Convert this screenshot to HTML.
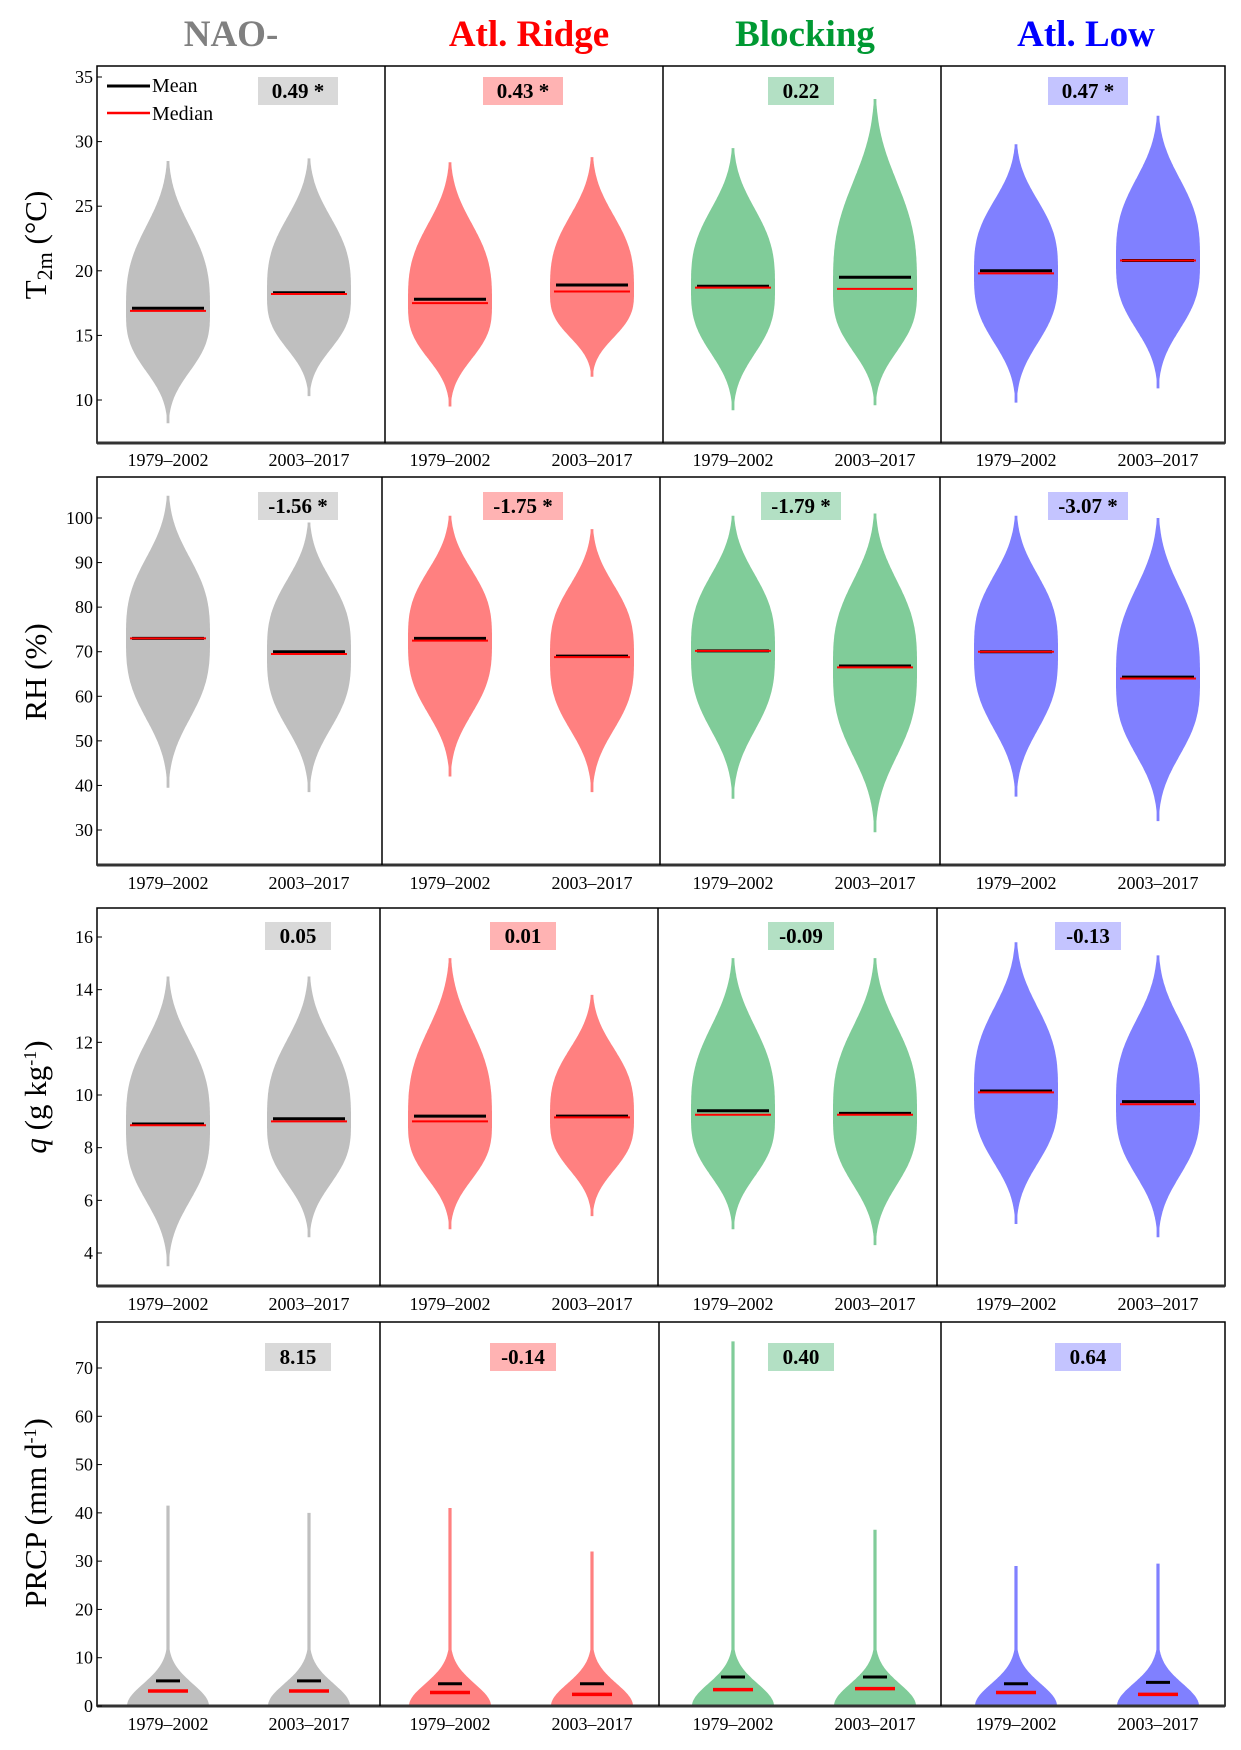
<!DOCTYPE html>
<html><head><meta charset="utf-8"><style>
html,body{margin:0;padding:0;background:#fff;}
svg{display:block;font-family:"Liberation Serif",serif;}
</style></head><body>
<svg id="fig" width="1241" height="1750" viewBox="0 0 1241 1750"></svg>
<script>
// ---------- data ----------
const regimes = ["NAO-", "Atl. Ridge", "Blocking", "Atl. Low"];
const periods = ["1979\u20132002", "2003\u20132017"];
const titleColors = ["#808080", "#ff0000", "#009933", "#0000ff"];
const violinColors = ["#bfbfbf", "#ff8080", "#80cc99", "#8080ff"];
const boxColors = ["#d9d9d9", "#ffb3b3", "#b3e0c4", "#c4c4ff"];
const t2mMin = [8.2,10.3, 9.5,11.8, 9.2,9.6, 9.8,10.9];
const t2mMax = [28.5,28.7, 28.4,28.8, 29.5,33.3, 29.8,32.0];
const t2mMean = [17.1,18.3, 17.8,18.9, 18.8,19.5, 20.0,20.8];
const t2mMedian = [16.9,18.2, 17.5,18.4, 18.7,18.6, 19.8,20.8];
const t2mDiff = ["0.49 *","0.43 *","0.22","0.47 *"];
const rhMin = [39.5,38.5, 42,38.5, 37,29.5, 37.5,32];
const rhMax = [105,99, 100.5,97.5, 100.5,101, 100.5,100];
const rhMean = [73,70, 73,69, 70.2,66.8, 70,64.3];
const rhMedian = [73,69.5, 72.5,68.8, 70.2,66.5, 70,64];
const rhDiff = ["-1.56 *","-1.75 *","-1.79 *","-3.07 *"];
const qMin = [3.5,4.6, 4.9,5.4, 4.9,4.3, 5.1,4.6];
const qMax = [14.5,14.5, 15.2,13.8, 15.2,15.2, 15.8,15.3];
const qMean = [8.9,9.1, 9.2,9.2, 9.4,9.3, 10.15,9.75];
const qMedian = [8.85,9.0, 9.0,9.15, 9.25,9.25, 10.1,9.65];
const qDiff = ["0.05","0.01","-0.09","-0.13"];
const prMin = [0,0, 0,0, 0,0, 0,0];
const prMax = [41.5,40, 41,32, 75.5,36.5, 29,29.5];
const prMean = [5.2,5.2, 4.6,4.6, 6.0,6.0, 4.6,4.9];
const prMedian = [3.1,3.1, 2.8,2.4, 3.4,3.6, 2.8,2.4];
const prDiff = ["8.15","-0.14","0.40","0.64"];
const t2mTicks = [10,15,20,25,30,35];
const rhTicks = [30,40,50,60,70,80,90,100];
const qTicks = [4,6,8,10,12,14,16];
const prTicks = [0,10,20,30,40,50,60,70];

// ---------- layout ----------
const svg = document.getElementById('fig');
const NS = "http://www.w3.org/2000/svg";
function mk(tag, attrs, parent){const e=document.createElementNS(NS,tag);for(const k in attrs)e.setAttribute(k,attrs[k]);(parent||svg).appendChild(e);return e;}
const L=97, R=1225;
const centers=[168,309, 450,592, 733,875, 1016,1158];
const rows=[
 {key:"t2m",top:66,bot:443,v0:35,y0:77,v1:10,y1:400,ticks:t2mTicks,mn:t2mMin,mx:t2mMax,mean:t2mMean,med:t2mMedian,diff:t2mDiff,labY:460,boxY:91,div:[385,663,941]},
 {key:"rh",top:477,bot:865,v0:100,y0:518,v1:30,y1:830,ticks:rhTicks,mn:rhMin,mx:rhMax,mean:rhMean,med:rhMedian,diff:rhDiff,labY:883,boxY:506,div:[382,660,940]},
 {key:"q",top:908,bot:1286,v0:16,y0:937,v1:4,y1:1253,ticks:qTicks,mn:qMin,mx:qMax,mean:qMean,med:qMedian,diff:qDiff,labY:1304,boxY:936,div:[380,658,937]},
 {key:"prcp",top:1322,bot:1706,v0:70,y0:1368,v1:0,y1:1706,ticks:prTicks,mn:prMin,mx:prMax,mean:prMean,med:prMedian,diff:prDiff,labY:1724,boxY:1357,div:[380,659,941]}
];
const boxCx=[298,523,801,1088];

regimes.forEach((r,i)=>{
 const t=mk('text',{x:[231,529,805,1086][i],y:46,'text-anchor':'middle','font-size':37,'font-weight':'bold',fill:titleColors[i]});
 t.textContent=r;
 
 
});

rows.forEach((row,ri)=>{
 const y=v=>row.y0+(row.v0-v)*(row.y1-row.y0)/(row.v0-row.v1);
 const g=mk('g',{});
 
 
 for(let k=0;k<8;k++){
  const cx=centers[k], col=violinColors[Math.floor(k/2)];
  const mn=row.mn[k], mx=row.mx[k], med=row.med[k];
  const pts=[];
  const N=200;
  for(let s=0;s<=N;s++){
   const v=mn+(mx-mn)*s/N;
   let hw;
   if(row.key==="prcp"){
     hw=Math.max(1.6,41*Math.exp(-Math.pow(v/6.5,2)));
   } else {
     const sc=v<med?0.62*(med-mn):0.65*(mx-med);
     const z=Math.abs(v-med)/sc;
     hw=Math.max(1.4,42*Math.exp(-Math.pow(z,3)));
   }
   pts.push([cx+hw,y(v)]);
  }
  const left=pts.map(p=>[2*cx-p[0],p[1]]).reverse();
  const poly=mk('polygon',{points:pts.concat(left).map(p=>p[0].toFixed(1)+','+p[1].toFixed(1)).join(' '),fill:col},g);
  
  
  const hw2=row.key==="prcp"?12:36;
  const mnl=mk('line',{x1:cx-hw2,x2:cx+hw2,y1:y(row.mean[k]),y2:y(row.mean[k]),stroke:'#000','stroke-width':3},g);
  
  
  const hw3=row.key==="prcp"?20:38;
  const mdl=mk('line',{x1:cx-hw3,x2:cx+hw3,y1:y(med),y2:y(med),stroke:'#ff0000','stroke-width':row.key==="prcp"?3.5:2},g);
  
  
 }
 const fr=mk('rect',{x:L,y:row.top,width:R-L,height:row.bot-row.top,fill:'none',stroke:'#000','stroke-width':1.5},g);
 
 
 const bl=mk('line',{x1:L,x2:R,y1:row.bot,y2:row.bot,stroke:'#333','stroke-width':3},g);
 
 
 row.div.forEach(d=>{const l=mk('line',{x1:d,x2:d,y1:row.top,y2:row.bot,stroke:'#000','stroke-width':1.5},g);
  
  });
 row.ticks.forEach(t=>{
  const ty=y(t);
  mk('line',{x1:L,x2:L+5,y1:ty,y2:ty,stroke:'#000','stroke-width':1},g);
  const tx=mk('text',{x:L-4,y:ty+6,'text-anchor':'end','font-size':18,fill:'#000'},g);
  tx.textContent=t;
  
  
 });
 centers.forEach((c,k)=>{
  const tx=mk('text',{x:c,y:row.labY+6,'text-anchor':'middle','font-size':18,fill:'#000'},g);
  tx.textContent=periods[k%2];
  
  
 });
 row.diff.forEach((d,i)=>{
  const w=d.length>5?80:66;
  const r=mk('rect',{x:boxCx[i]-w/2,y:row.boxY-14,width:w,height:28,fill:boxColors[i]},g);
  
  
  const tx=mk('text',{x:boxCx[i],y:row.boxY+7,'text-anchor':'middle','font-size':21,'font-weight':'bold',fill:'#000'},g);
  tx.textContent=d;
  
  
 });
});

function ytitle(cy,html,name){
 const t=mk('text',{transform:`translate(46,${cy}) rotate(-90)`,'text-anchor':'middle','font-size':31,fill:'#000'});
 t.innerHTML=html;
 
 
}
ytitle(245,'T<tspan font-size="22" dy="6">2m</tspan><tspan dy="-6"> (°C)</tspan>','y-axis-title-t2m');
ytitle(672,'RH (%)','y-axis-title-rh');
ytitle(1097,'<tspan font-style="italic">q</tspan> (g kg<tspan font-size="18" dy="-10">-1</tspan><tspan dy="10">)</tspan>','y-axis-title-q');
ytitle(1513,'PRCP (mm d<tspan font-size="18" dy="-10">-1</tspan><tspan dy="10">)</tspan>','y-axis-title-prcp');

const lg=mk('g',{});


mk('line',{x1:107,x2:150,y1:86,y2:86,stroke:'#000','stroke-width':3},lg);
mk('line',{x1:107,x2:150,y1:113,y2:113,stroke:'#ff0000','stroke-width':2.5},lg);
const l1=mk('text',{x:152,y:92,'font-size':20},lg);l1.textContent='Mean';


const l2=mk('text',{x:152,y:120,'font-size':20},lg);l2.textContent='Median';


</script>
</body></html>
